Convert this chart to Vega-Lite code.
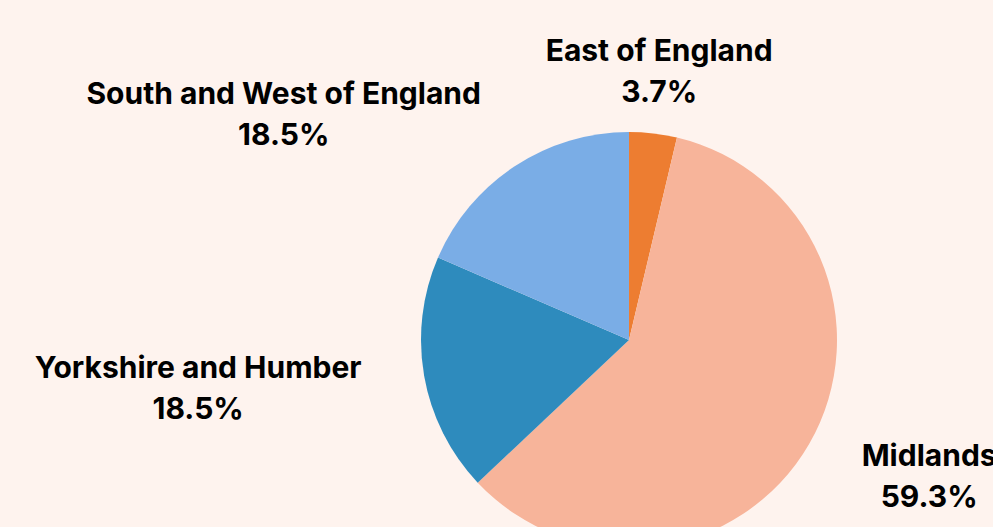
{
  "$schema": "https://vega.github.io/schema/vega-lite/v6.json",
  "width": 728,
  "height": 374,
  "autosize": {"type": "none", "contains": "content"},
  "padding": {"left": 265, "top": 153, "right": 0, "bottom": 0},
  "background": "#FEF3EE",
  "config": {"view": {"stroke": null}},
  "data": {
    "values": [
      {"region": "East of England", "count": 1, "rank": 1, "label": ["East of England", "3.7%"]},
      {"region": "Midlands", "count": 16, "rank": 2, "label": ["Midlands", "59.3%"]},
      {"region": "Yorkshire and Humber", "count": 5, "rank": 3, "label": ["Yorkshire and Humber", "18.5%"]},
      {"region": "South and West of England", "count": 5, "rank": 4, "label": ["South and West of England", "18.5%"]}
    ]
  },
  "encoding": {
    "theta": {"field": "count", "type": "quantitative", "stack": true},
    "order": {"field": "rank", "type": "quantitative"}
  },
  "layer": [
    {
      "mark": {"type": "arc", "radius": 208},
      "encoding": {
        "color": {
          "field": "region",
          "type": "nominal",
          "legend": null,
          "scale": {
            "domain": ["East of England", "Midlands", "Yorkshire and Humber", "South and West of England"],
            "range": ["#ED7D31", "#F7B49A", "#2E8BBD", "#7AADE6"]
          }
        }
      }
    },
    {
      "mark": {"type": "text", "radius": 208, "dx": 6, "dy": -81, "font": "Inter", "fontWeight": "bold", "fontSize": 30, "lineHeight": 41, "color": "#000000", "align": "center", "baseline": "middle"},
      "encoding": {"text": {"condition": {"test": "datum.region === 'East of England'", "field": "label"}, "value": ""}}
    },
    {
      "mark": {"type": "text", "radius": 208, "dx": 120, "dy": 13, "font": "Inter", "fontWeight": "bold", "fontSize": 30, "lineHeight": 41, "color": "#000000", "align": "center", "baseline": "middle"},
      "encoding": {"text": {"condition": {"test": "datum.region === 'Midlands'", "field": "label"}, "value": ""}}
    },
    {
      "mark": {"type": "text", "radius": 208, "dx": -226, "dy": -7, "font": "Inter", "fontWeight": "bold", "fontSize": 30, "lineHeight": 41, "color": "#000000", "align": "center", "baseline": "middle"},
      "encoding": {"text": {"condition": {"test": "datum.region === 'Yorkshire and Humber'", "field": "label"}, "value": ""}}
    },
    {
      "mark": {"type": "text", "radius": 208, "dx": -231, "dy": -71, "font": "Inter", "fontWeight": "bold", "fontSize": 30, "lineHeight": 41, "color": "#000000", "align": "center", "baseline": "middle"},
      "encoding": {"text": {"condition": {"test": "datum.region === 'South and West of England'", "field": "label"}, "value": ""}}
    }
  ]
}
